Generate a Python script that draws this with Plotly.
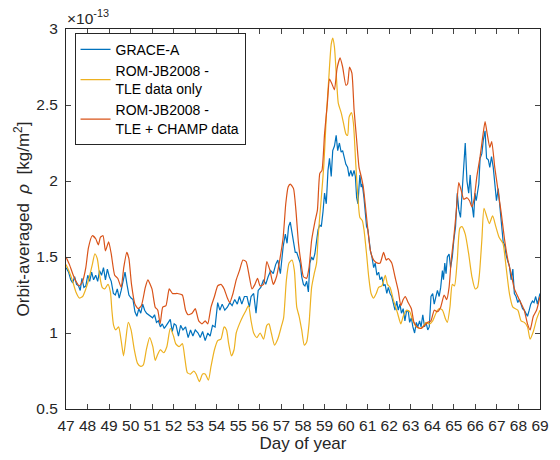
import plotly.graph_objects as go

# Day of year and orbit-averaged density (x 1e-13 kg/m^2)
grace_day = [47.0,47.04,47.12,47.22,47.31,47.4,47.49,47.58,47.66,47.74,47.83,47.92,48.01,48.1,48.19,48.28,48.38,48.47,48.56,48.65,48.74,48.83,48.92,49.01,49.1,49.2,49.29,49.38,49.47,49.56,49.65,49.74,49.83,49.92,50.02,50.11,50.2,50.29,50.38,50.47,50.56,50.65,50.74,50.84,50.93,51.02,51.11,51.2,51.29,51.38,51.47,51.56,51.66,51.75,51.84,51.93,52.02,52.11,52.22,52.32,52.43,52.55,52.67,52.78,52.89,53.0,53.13,53.23,53.34,53.46,53.58,53.69,53.8,53.92,54.04,54.14,54.25,54.37,54.49,54.6,54.71,54.83,54.95,55.05,55.16,55.28,55.4,55.51,55.59,55.71,55.82,55.92,56.04,56.17,56.27,56.38,56.5,56.62,56.73,56.83,56.95,57.08,57.18,57.26,57.33,57.41,57.49,57.56,57.64,57.71,57.79,57.87,57.94,58.02,58.09,58.17,58.25,58.32,58.4,58.47,58.55,58.63,58.7,58.78,58.85,58.93,59.0,59.08,59.16,59.23,59.31,59.38,59.46,59.54,59.61,59.69,59.77,59.84,59.92,59.99,60.07,60.14,60.22,60.29,60.37,60.43,60.49,60.55,60.6,60.64,60.7,60.75,60.83,60.89,60.95,61.01,61.07,61.13,61.2,61.28,61.35,61.43,61.51,61.58,61.66,61.74,61.81,61.89,61.96,62.04,62.12,62.19,62.27,62.35,62.42,62.5,62.57,62.65,62.73,62.8,62.88,62.95,63.03,63.1,63.18,63.26,63.33,63.41,63.48,63.56,63.64,63.71,63.79,63.86,63.94,64.02,64.09,64.17,64.24,64.32,64.39,64.47,64.52,64.58,64.64,64.7,64.78,64.85,64.93,65.0,65.08,65.16,65.23,65.31,65.38,65.46,65.53,65.61,65.69,65.76,65.84,65.92,65.98,66.04,66.1,66.16,66.22,66.3,66.37,66.45,66.52,66.6,66.67,66.75,66.83,66.9,66.98,67.06,67.13,67.21,67.29,67.36,67.43,67.51,67.58,67.66,67.74,67.81,67.89,67.97,68.04,68.12,68.19,68.27,68.34,68.42,68.5,68.57,68.65,68.72,68.8,68.88,69.0]
grace_val = [1.43,1.42,1.40,1.35,1.33,1.37,1.32,1.31,1.28,1.36,1.30,1.31,1.38,1.34,1.40,1.35,1.38,1.34,1.41,1.38,1.43,1.35,1.42,1.37,1.34,1.26,1.25,1.29,1.23,1.28,1.35,1.40,1.32,1.25,1.23,1.22,1.14,1.11,1.16,1.13,1.19,1.15,1.13,1.12,1.11,1.10,1.12,1.07,1.08,1.04,1.06,1.03,1.05,1.07,1.09,1.01,1.06,1.05,0.98,1.05,1.02,1.04,0.97,1.02,0.98,1.02,1.00,0.97,1.01,0.95,1.00,0.98,1.05,1.04,1.20,1.15,1.19,1.15,1.17,1.20,1.18,1.22,1.19,1.24,1.19,1.24,1.24,1.17,1.24,1.26,1.13,1.28,1.30,1.35,1.32,1.37,1.41,1.39,1.45,1.48,1.39,1.57,1.65,1.59,1.70,1.73,1.65,1.59,1.53,1.53,1.50,1.46,1.37,1.32,1.31,1.34,1.27,1.46,1.50,1.48,1.52,1.63,1.68,1.71,1.70,1.80,1.92,1.85,2.07,2.15,2.03,2.20,2.23,2.30,2.20,2.25,2.19,2.20,2.14,2.11,2.09,2.03,2.07,2.03,2.07,2.03,1.89,1.85,1.96,2.04,1.96,1.98,1.89,1.76,1.70,1.68,1.61,1.54,1.50,1.43,1.46,1.38,1.40,1.35,1.37,1.31,1.32,1.26,1.30,1.26,1.24,1.19,1.15,1.21,1.15,1.19,1.13,1.16,1.08,1.14,1.15,1.07,1.10,1.04,1.00,1.07,1.04,1.08,1.04,1.12,1.04,1.07,1.02,1.04,1.24,1.26,1.19,1.24,1.28,1.24,1.30,1.41,1.35,1.46,1.39,1.50,1.52,1.43,1.50,1.61,1.70,1.92,1.81,1.76,1.92,2.14,2.25,2.00,1.92,2.04,1.85,1.76,1.92,1.87,1.92,1.98,2.15,2.18,2.27,2.33,2.15,2.14,2.09,2.16,2.09,1.98,1.87,1.95,1.83,1.72,1.60,1.58,1.51,1.47,1.44,1.35,1.42,1.26,1.24,1.20,1.22,1.19,1.16,1.15,1.13,1.11,1.15,1.19,1.21,1.20,1.24,1.19,1.26]

tle_day = [47.0,47.16,47.31,47.46,47.62,47.77,47.92,48.07,48.22,48.34,48.45,48.56,48.68,48.8,48.95,49.06,49.13,49.21,49.31,49.44,49.56,49.67,49.77,49.89,50.02,50.17,50.32,50.47,50.59,50.73,50.88,51.03,51.14,51.26,51.38,51.53,51.68,51.84,51.99,52.09,52.25,52.4,52.52,52.63,52.78,52.93,53.04,53.19,53.34,53.46,53.61,53.73,53.89,54.04,54.19,54.34,54.45,54.55,54.68,54.8,54.9,55.05,55.21,55.36,55.47,55.59,55.71,55.86,56.01,56.17,56.32,56.42,56.53,56.68,56.83,56.99,57.1,57.23,57.35,57.49,57.6,57.71,57.82,57.94,58.06,58.17,58.28,58.4,58.52,58.63,58.7,58.85,58.97,59.08,59.19,59.31,59.38,59.46,59.54,59.64,59.77,59.88,59.99,60.07,60.14,60.25,60.34,60.45,60.55,60.64,60.75,60.83,60.95,61.05,61.16,61.28,61.4,61.51,61.66,61.82,61.92,62.04,62.19,62.39,62.54,62.65,62.8,62.95,63.1,63.26,63.41,63.56,63.71,63.87,64.02,64.17,64.32,64.47,64.62,64.7,64.82,64.93,65.03,65.16,65.28,65.38,65.53,65.69,65.84,65.99,66.1,66.19,66.3,66.4,66.52,66.65,66.8,66.95,67.1,67.28,67.43,67.58,67.74,67.97,68.12,68.27,68.42,68.54,68.69,68.84,69.0]
tle_val = [1.45,1.40,1.34,1.27,1.23,1.24,1.29,1.36,1.45,1.52,1.49,1.38,1.30,1.29,1.32,1.27,1.15,1.05,1.02,1.04,0.95,0.85,0.95,1.07,1.02,0.89,0.80,0.78,0.79,0.89,0.97,0.91,0.82,0.86,0.89,0.87,0.91,1.03,0.98,0.93,0.91,0.93,0.83,0.74,0.73,0.75,0.73,0.68,0.73,0.73,0.69,0.78,0.89,0.95,0.96,1.04,1.02,0.93,0.85,0.89,1.00,1.06,1.11,1.15,1.18,1.08,1.00,0.97,1.00,0.96,1.05,1.06,1.00,0.92,0.96,1.04,1.10,1.35,1.46,1.48,1.41,1.17,1.11,1.02,0.92,0.94,1.06,1.30,1.39,1.46,1.63,1.89,2.11,2.42,2.66,2.90,2.94,2.88,2.71,2.51,2.45,2.38,2.31,2.30,2.42,2.45,2.38,2.11,1.89,1.76,1.74,1.68,1.52,1.37,1.26,1.23,1.26,1.30,1.31,1.38,1.32,1.30,1.22,1.13,1.06,1.11,1.15,1.14,1.08,1.04,1.03,1.04,1.07,1.06,1.08,1.13,1.16,1.15,1.09,1.07,1.17,1.32,1.31,1.48,1.69,1.70,1.65,1.52,1.37,1.29,1.30,1.39,1.61,1.82,1.77,1.72,1.77,1.70,1.63,1.59,1.43,1.26,1.17,1.15,1.08,1.07,1.04,0.96,1.01,1.09,1.15]

champ_day = [47.0,47.16,47.31,47.46,47.62,47.77,47.92,48.04,48.22,48.38,48.5,48.6,48.72,48.83,48.98,49.1,49.26,49.4,49.56,49.68,49.82,49.92,50.04,50.2,50.35,50.5,50.68,50.8,50.99,51.14,51.26,51.37,51.49,51.64,51.79,51.94,52.17,52.4,52.55,52.67,52.85,53.0,53.16,53.31,53.46,53.58,53.73,53.89,54.04,54.19,54.34,54.49,54.6,54.75,54.9,55.05,55.21,55.36,55.51,55.63,55.77,55.89,56.01,56.17,56.32,56.47,56.62,56.77,56.92,57.08,57.2,57.31,57.41,57.56,57.67,57.79,57.91,58.02,58.17,58.28,58.4,58.55,58.67,58.78,58.88,59.0,59.13,59.23,59.34,59.46,59.58,59.72,59.84,59.99,60.07,60.16,60.27,60.37,60.49,60.6,60.7,60.8,60.9,61.01,61.13,61.28,61.46,61.58,61.74,61.86,61.96,62.12,62.27,62.42,62.54,62.65,62.75,62.88,63.03,63.15,63.3,63.48,63.64,63.79,63.94,64.09,64.24,64.39,64.55,64.67,64.78,64.88,65.0,65.12,65.23,65.34,65.46,65.61,65.73,65.84,65.94,66.07,66.22,66.34,66.45,66.55,66.67,66.76,66.9,67.05,67.2,67.36,67.51,67.66,67.81,68.04,68.27,68.42,68.54,68.69,68.84,69.0]
champ_val = [1.50,1.45,1.39,1.34,1.31,1.34,1.43,1.56,1.64,1.62,1.58,1.63,1.64,1.54,1.60,1.52,1.38,1.36,1.30,1.43,1.53,1.49,1.32,1.19,1.16,1.18,1.30,1.35,1.29,1.17,1.15,1.06,1.17,1.18,1.29,1.26,1.26,1.25,1.15,1.12,1.13,1.16,1.08,1.06,1.08,1.06,1.17,1.24,1.31,1.32,1.29,1.23,1.20,1.26,1.35,1.41,1.48,1.47,1.37,1.29,1.32,1.36,1.31,1.32,1.47,1.41,1.32,1.37,1.48,1.63,1.85,1.96,1.98,1.95,1.81,1.59,1.46,1.37,1.36,1.43,1.61,1.73,1.81,2.05,2.07,2.31,2.51,2.67,2.64,2.60,2.74,2.81,2.75,2.63,2.64,2.75,2.71,2.47,2.27,2.09,2.03,1.96,1.83,1.68,1.54,1.48,1.46,1.46,1.53,1.48,1.49,1.46,1.37,1.28,1.18,1.22,1.24,1.20,1.16,1.07,1.04,1.03,1.05,1.07,1.08,1.15,1.14,1.17,1.25,1.22,1.30,1.48,1.63,1.81,1.99,1.94,1.88,1.89,1.87,1.83,1.88,2.03,2.16,2.29,2.39,2.31,2.22,2.26,2.09,1.94,1.79,1.61,1.48,1.39,1.29,1.22,1.15,1.06,1.02,1.11,1.15,1.24]

x_ticks = list(range(47, 70))
y_ticks = [0.5, 1, 1.5, 2, 2.5, 3]
y_ticktext = ["0.5", "1", "1.5", "2", "2.5", "3"]

AX = "#262626"
FONT = "Liberation Sans, Arial, Helvetica, sans-serif"

fig = go.Figure()
fig.add_trace(go.Scatter(x=grace_day, y=grace_val, mode="lines", name="GRACE-A",
                         line=dict(color="#0072BD", width=1.2)))
fig.add_trace(go.Scatter(x=tle_day, y=tle_val, mode="lines", name="ROM-JB2008 -<br>TLE data only",
                         line=dict(color="#EDB120", width=1.2, shape="spline", smoothing=0.6)))
fig.add_trace(go.Scatter(x=champ_day, y=champ_val, mode="lines", name="ROM-JB2008 -<br>TLE + CHAMP data",
                         line=dict(color="#D95319", width=1.2, shape="spline", smoothing=0.5)))

fig.update_layout(
    width=560, height=460,
    margin=dict(l=66, r=11, t=29, b=51),
    paper_bgcolor="white", plot_bgcolor="white",
    font=dict(family=FONT, size=15.5, color=AX),
    showlegend=True,
    legend=dict(x=0.018, y=0.99, xanchor="left", yanchor="top",
                bgcolor="white", bordercolor=AX, borderwidth=1,
                font=dict(size=14, color="#000000"), tracegroupgap=0),
    xaxis=dict(range=[47, 69], tickvals=x_ticks, ticks="inside", ticklen=5,
               showline=True, linecolor=AX, linewidth=1, mirror="ticks",
               showgrid=False, zeroline=False, tickfont=dict(size=15.5, color=AX),
               ticklabelstandoff=2,
               title=dict(text="Day of year", font=dict(size=17, color=AX), standoff=4)),
    yaxis=dict(range=[0.5, 3], tickvals=y_ticks, ticktext=y_ticktext, ticks="inside", ticklen=5,
               showline=True, linecolor=AX, linewidth=1, mirror="ticks",
               showgrid=False, zeroline=False, tickfont=dict(size=15.5, color=AX),
               ticklabelstandoff=4,
               title=dict(text="Orbit-averaged  <i>ρ</i>  [kg/m<sup>2</sup>]",
                          font=dict(size=17, color=AX), standoff=2)),
    annotations=[dict(text="×10<sup>-13</sup>", xref="paper", yref="paper", x=0, y=1.0,
                      xanchor="left", yanchor="bottom", showarrow=False, xshift=-1, yshift=0,
                      font=dict(size=15.5, color=AX))],
)

fig.write_html("out.html", config={"displayModeBar": False},
               post_script="document.body.style.margin='0';")
